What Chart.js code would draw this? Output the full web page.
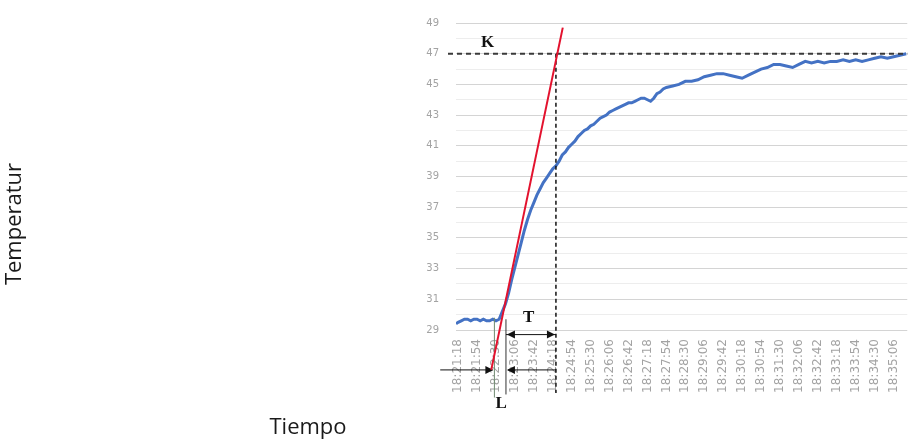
<!DOCTYPE html>
<html>
<head>
<meta charset="utf-8">
<script src="https://cdn.jsdelivr.net/npm/chart.js@4"></script>
<style>
  html, body { margin: 0; padding: 0; background: #fff; }
  #wrap { width: 917px; height: 444px; }
</style>
</head>
<body>
<div id="wrap"><canvas id="tempChart" width="917" height="444"></canvas></div>
<script>
// ─── Data ────────────────────────────────────────────────────────────────────

// seconds elapsed since 18:21:18
const elapsedSec = [
  -4, 0, 6, 12, 18, 24, 30, 36, 42, 48, 54, 60, 66, 72, 78,
  84, 90, 96, 102, 108, 114, 120, 126, 132, 138, 144, 150, 156, 162, 168,
  174, 180, 186, 192, 198, 204, 210, 216, 222, 228, 234, 240, 246, 252, 258,
  264, 270, 276, 282, 288, 294, 300, 306, 312, 318, 324, 330, 336, 342, 348,
  354, 360, 366, 372, 378, 384, 390, 396, 408, 420, 432, 444, 456, 468, 480,
  492, 504, 516, 528, 540, 552, 564, 576, 588, 600, 612, 624, 636, 648, 660,
  672, 684, 696, 708, 720, 732, 744, 756, 768, 780, 792, 804, 816, 828, 840,
  852
];

const temperature = [
  29.4, 29.5, 29.6, 29.7, 29.7, 29.6, 29.7, 29.7, 29.6, 29.7, 29.6, 29.6, 29.7, 29.6, 29.7,
  30.2, 30.7, 31.4, 32.3, 33.1, 33.9, 34.7, 35.5, 36.2, 36.8, 37.3, 37.8, 38.2, 38.6, 38.9,
  39.2, 39.5, 39.7, 40.0, 40.4, 40.6, 40.9, 41.1, 41.3, 41.6, 41.8, 42.0, 42.1, 42.3, 42.4,
  42.6, 42.8, 42.9, 43.0, 43.2, 43.3, 43.4, 43.5, 43.6, 43.7, 43.8, 43.8, 43.9, 44.0, 44.1,
  44.1, 44.0, 43.9, 44.1, 44.4, 44.5, 44.7, 44.8, 44.9, 45.0, 45.2, 45.2, 45.3, 45.5, 45.6,
  45.7, 45.7, 45.6, 45.5, 45.4, 45.6, 45.8, 46.0, 46.1, 46.3, 46.3, 46.2, 46.1, 46.3, 46.5,
  46.4, 46.5, 46.4, 46.5, 46.5, 46.6, 46.5, 46.6, 46.5, 46.6, 46.7, 46.8, 46.7, 46.8, 46.9,
  47.0
];

const timeLabels = [
  "18:21:18", "18:21:54", "18:22:30", "18:23:06", "18:23:42", "18:24:18",
  "18:24:54", "18:25:30", "18:26:06", "18:26:42", "18:27:18", "18:27:54",
  "18:28:30", "18:29:06", "18:29:42", "18:30:18", "18:30:54", "18:31:30",
  "18:32:06", "18:32:42", "18:33:18", "18:33:54", "18:34:30", "18:35:06"
];

const yLabels = [29, 31, 33, 35, 37, 39, 41, 43, 45, 47, 49];

// Ziegler-Nichols construction (seconds, °C)
const kLevel      = 47;
const tangentFrom = [63, 26.4];
const tangentTo   = [199, 48.7];
const tEndSec     = 186;   // tangent meets K
const lStartSec   = 69;
const lEndSec     = 91;

// ─── Helpers ─────────────────────────────────────────────────────────────────

function toSeconds(hms) {
  const [h, m, s] = hms.split(":").map(Number);
  return h * 3600 + m * 60 + s;
}

const tickSec = timeLabels.map(t => toSeconds(t) - toSeconds(timeLabels[0]));

function arrowHead(ctx, x, y, dir) {
  ctx.beginPath();
  ctx.moveTo(x, y);
  ctx.lineTo(x - dir * 8, y - 4);
  ctx.lineTo(x - dir * 8, y + 4);
  ctx.closePath();
  ctx.fill();
}

// ─── Construction lines plugin ───────────────────────────────────────────────

const constructionPlugin = {
  id: "construction",
  afterDatasetsDraw(chart) {
    const { ctx, chartArea } = chart;
    const xs = chart.scales.x;
    const ys = chart.scales.y;
    const px = v => xs.getPixelForValue(v);
    const py = v => ys.getPixelForValue(v);

    ctx.save();

    // K dashed level
    ctx.strokeStyle = "#3a3a3a";
    ctx.lineWidth = 2;
    ctx.setLineDash([5, 4]);
    ctx.beginPath();
    ctx.moveTo(chartArea.left - 8, py(kLevel));
    ctx.lineTo(chartArea.right, py(kLevel));
    ctx.stroke();

    // vertical dashed at end of T
    ctx.lineWidth = 1.5;
    ctx.strokeStyle = "#111";
    ctx.setLineDash([4, 3]);
    ctx.beginPath();
    ctx.moveTo(px(tEndSec), py(kLevel));
    ctx.lineTo(px(tEndSec), py(24.9));
    ctx.stroke();
    ctx.setLineDash([]);

    // L bracket lines
    ctx.lineWidth = 1;
    ctx.strokeStyle = "#6f8a70";
    ctx.beginPath();
    ctx.moveTo(px(lStartSec), py(29.8));
    ctx.lineTo(px(lStartSec), py(24.6));
    ctx.stroke();
    ctx.strokeStyle = "#333";
    ctx.beginPath();
    ctx.moveTo(px(lEndSec), py(29.7));
    ctx.lineTo(px(lEndSec), py(24.8));
    ctx.stroke();

    // L arrows
    ctx.strokeStyle = "#111";
    ctx.fillStyle = "#111";
    const yL = py(26.4);
    ctx.beginPath();
    ctx.moveTo(px(-34), yL);
    ctx.lineTo(px(lStartSec) - 2, yL);
    ctx.moveTo(px(lEndSec) + 2, yL);
    ctx.lineTo(px(tEndSec), yL);
    ctx.stroke();
    arrowHead(ctx, px(lStartSec) - 1, yL, 1);
    arrowHead(ctx, px(lEndSec) + 1, yL, -1);

    // T arrow
    const yT = py(28.7);
    ctx.beginPath();
    ctx.moveTo(px(lEndSec), yT);
    ctx.lineTo(px(tEndSec), yT);
    ctx.stroke();
    arrowHead(ctx, px(lEndSec) + 1, yT, -1);
    arrowHead(ctx, px(tEndSec) - 1, yT, 1);

    // tangent
    ctx.strokeStyle = "#e3122e";
    ctx.lineWidth = 2;
    ctx.beginPath();
    ctx.moveTo(px(tangentFrom[0]), py(tangentFrom[1]));
    ctx.lineTo(px(tangentTo[0]), py(tangentTo[1]));
    ctx.stroke();

    // letters
    ctx.fillStyle = "#111";
    ctx.font = "bold 17px 'Liberation Serif', serif";
    ctx.textAlign = "center";
    ctx.textBaseline = "middle";
    ctx.fillText("K", px(56), py(47.7));
    ctx.fillText("T", px(134), py(29.8));
    ctx.fillText("L", px(82), py(24.2));

    ctx.restore();
  },
  afterDraw(chart) {
    const { ctx } = chart;
    ctx.save();
    ctx.fillStyle = "#1a1a1a";
    ctx.font = "22px 'Open Sans', sans-serif";
    ctx.textAlign = "center";
    ctx.textBaseline = "middle";
    ctx.fillText("Tiempo", 308, 428);
    ctx.translate(15, 224);
    ctx.rotate(-Math.PI / 2);
    ctx.fillText("Temperatur", 0, 0);
    ctx.restore();
  }
};

// ─── Chart ───────────────────────────────────────────────────────────────────

new Chart(document.getElementById("tempChart"), {
  type: "line",
  data: {
    datasets: [{
      label: "Temperatura",
      data: elapsedSec.map((s, i) => ({ x: s, y: temperature[i] })),
      borderColor: "#4472c4",
      borderWidth: 3,
      pointRadius: 0,
      tension: 0,
      fill: false
    }]
  },
  options: {
    responsive: false,
    devicePixelRatio: 1,
    animation: false,
    layout: { padding: { top: 23, right: 0, left: 0, bottom: 0 } },
    plugins: {
      legend: { display: false },
      tooltip: { enabled: false }
    },
    scales: {
      x: {
        type: "linear",
        min: -4,
        max: 854,
        afterBuildTicks: axis => { axis.ticks = tickSec.map(v => ({ value: v })); },
        afterFit: axis => { axis.height = 114; },
        grid: { display: false, drawTicks: false },
        border: { display: false },
        ticks: {
          autoSkip: false,
          minRotation: 90,
          maxRotation: 90,
          padding: 9,
          color: "#a3a3a3",
          font: { family: "'DejaVu Sans', sans-serif", size: 12 },
          callback: value => timeLabels[tickSec.indexOf(value)] || ""
        }
      },
      y: {
        min: 29,
        max: 49,
        afterFit: axis => { axis.width = 456; },
        grid: {
          drawTicks: false,
          color: ctx => (ctx.tick && ctx.tick.value % 2 === 1) ? "#d4d4d4" : "#ededed"
        },
        border: { display: false },
        ticks: {
          stepSize: 1,
          padding: 17,
          color: "#a3a3a3",
          font: { family: "'DejaVu Sans', sans-serif", size: 10 },
          callback: value => yLabels.includes(value) ? String(value) : ""
        }
      }
    }
  },
  plugins: [constructionPlugin]
});
</script>
</body>
</html>
